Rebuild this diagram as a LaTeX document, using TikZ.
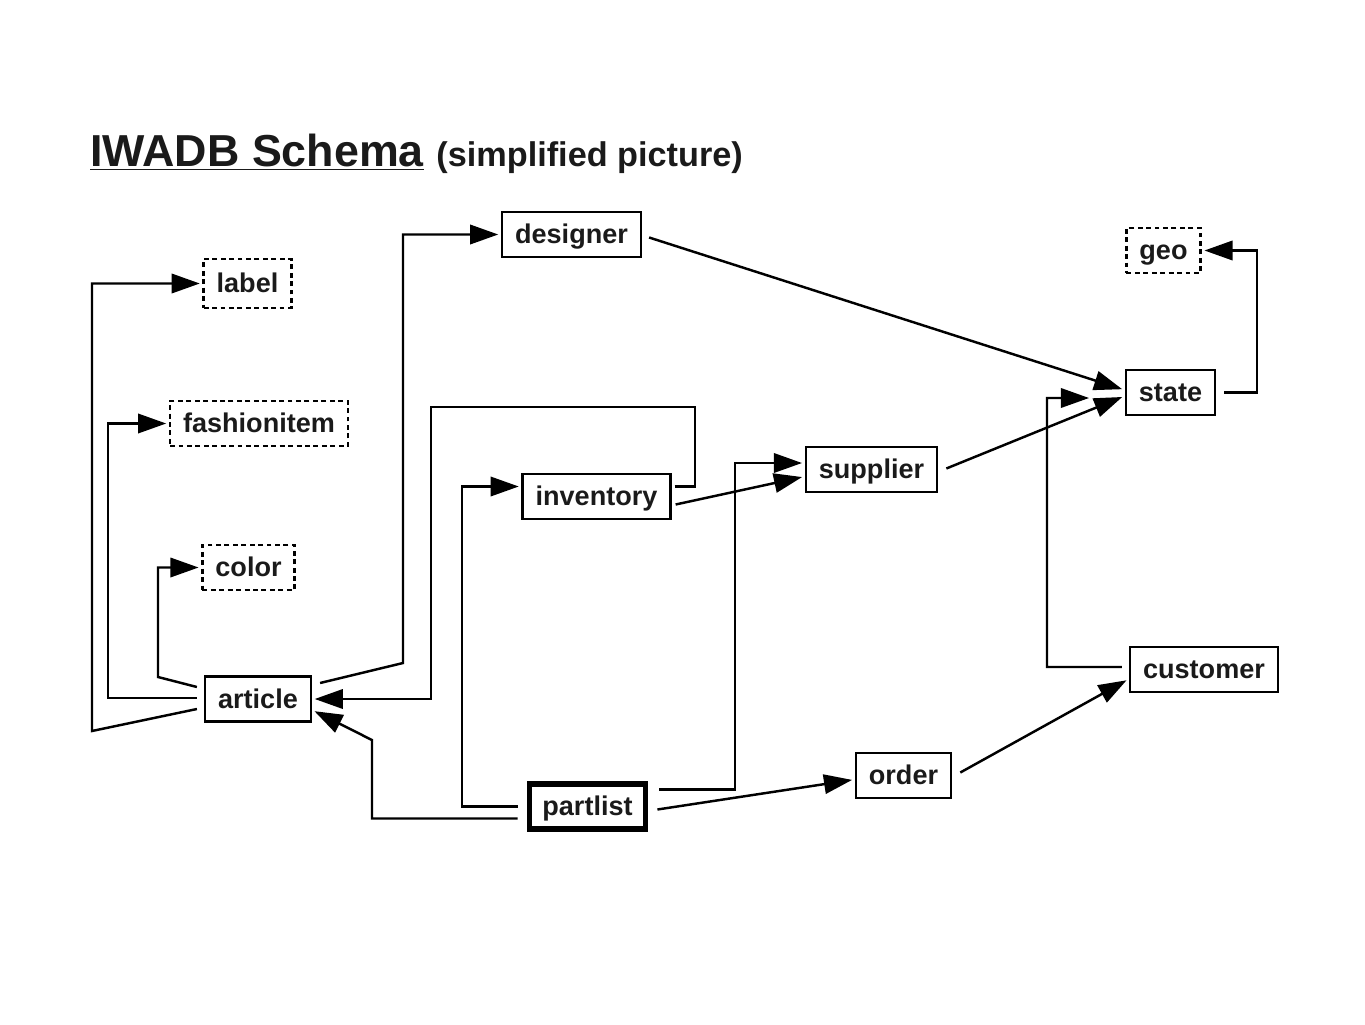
\documentclass[tikz,border=0pt]{standalone}
\usepackage{fontspec}
\setmainfont{Liberation Sans}
\usepackage{tikz}
\usetikzlibrary{arrows.meta}
\definecolor{schemaink}{RGB}{26, 26, 26}

\begin{document}
\begin{tikzpicture}[x=0.02cm, y=-0.02cm,
    table/.style={draw, line width=1.4pt, text=schemaink,
      font=\bfseries\fontsize{15.4}{18}\selectfont,
      text height=12pt, text depth=1.2pt,
      inner xsep=0.26cm, minimum height=0.9cm},
    extern/.style={table, dash pattern=on 2.8pt off 2pt},
    link/.style={line width=1.4pt, -{Triangle[length=16pt, width=11pt]},
      shorten >=1.5pt}]
      \useasboundingbox (0,0) rectangle (1365,1024);
      % title
      \node[anchor=base west, inner sep=0, text=schemaink] (title) at (90,166)
        {\bfseries\fontsize{25.5}{30}\selectfont\underline{IWADB Schema}
         \fontsize{19.5}{23}\selectfont(simplified picture)};
      % tables
      \node[table] (designer) at (571.5,234.5) {designer};
      \node[extern, minimum height=0.98cm] (label) at (247.5,283.5) {label};
      \node[extern] (fashionitem) at (259,423.5) {fashionitem};
      \node[extern] (color) at (248.5,567.5) {color};
      \node[table] (article) at (258,699) {article};
      \node[table] (inventory) at (596.5,496.5) {inventory};
      \node[table, line width=3.2pt] (partlist) at (587.5,806.5) {partlist};
      \node[table] (supplier) at (871.5,469.5) {supplier};
      \node[table] (order) at (903.5,775.5) {order};
      \node[table] (state) at (1170.5,392.5) {state};
      \node[extern] (geo) at (1163.5,250.5) {geo};
      \node[table] (customer) at (1204,669.5) {customer};
      % article links
      \draw[link] ([shift={(-7,10)}]article.west) -- (92,731) |- (label);
      \draw[link] ([shift={(-7,-1)}]article.west) -- (108,698) |- (fashionitem);
      \draw[link] ([shift={(-7,-12)}]article.west) -- (158,677) |- (color);
      \draw[link] ([shift={(8,-16)}]article.east) -- (403,663) |- (designer);
      % inventory and partlist
      \draw[link] ([shift={(3,-10)}]inventory.east) -| (695,407) -| (431,699)
        -- (article);
      \draw[link] ([shift={(-9,0)}]partlist.west) -- (462,806.5)
        |- ([shift={(0,-10)}]inventory.west);
      \draw[link] ([shift={(-9,12)}]partlist.west) -| (372,740)
        -- ([shift={(0,11)}]article.east);
      \draw[link] ([shift={(11,-17)}]partlist.east) -| (735,463)
        -- ([shift={(0,-6.5)}]supplier.west);
      \draw[link] ([shift={(4,8)}]inventory.east) -- ([shift={(0,7)}]supplier.west);
      \draw[link] ([shift={(9,3)}]partlist.east) -- ([shift={(0,4)}]order.west);
      % to state
      \draw[link] ([shift={(7,3)}]designer.east) -- ([shift={(0,-2.5)}]state.west);
      \draw[link] ([shift={(8,-1)}]supplier.east) -- ([shift={(0,3.5)}]state.west);
      \draw[link] ([shift={(-7,-2.5)}]customer.west) -| (1047,398)
        -- ([shift={(-33,5.5)}]state.west);
      \draw[link] ([shift={(8,0)}]state.east) -| (1257,250.5) -- (geo);
      \draw[link] ([shift={(8,-3)}]order.east) -- ([shift={(0,9.5)}]customer.west);
    \end{tikzpicture}
\end{document}
